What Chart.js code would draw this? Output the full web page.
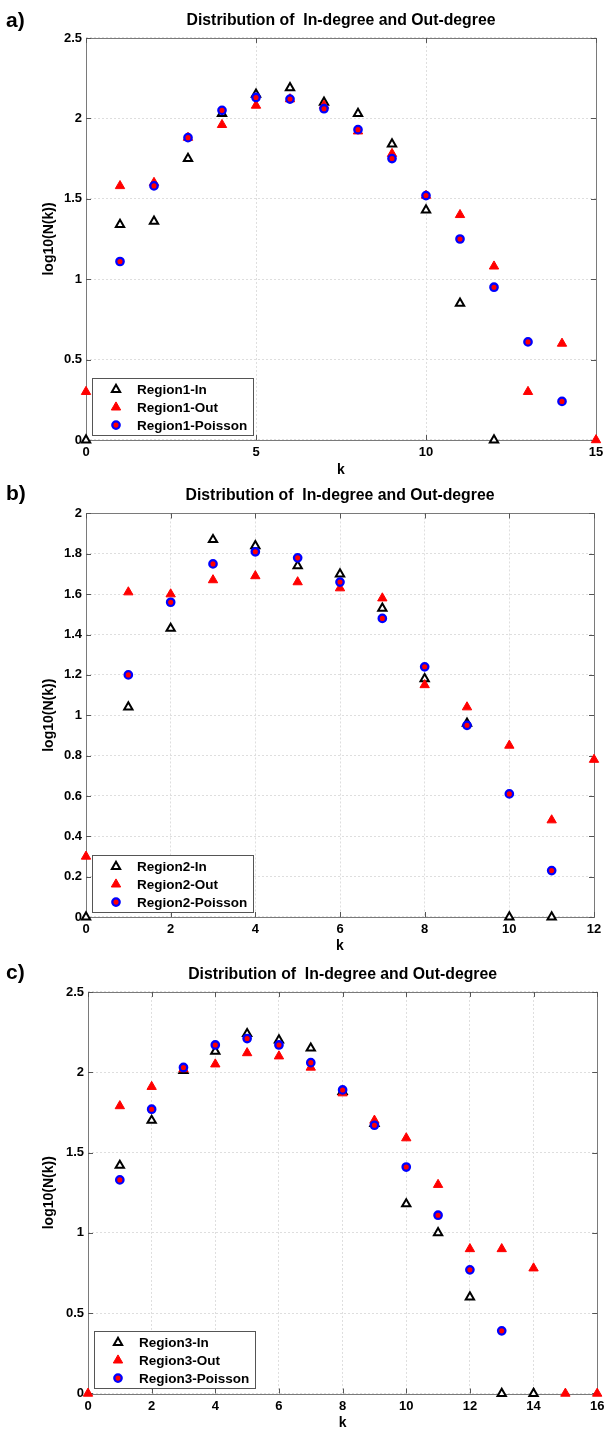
<!DOCTYPE html>
<html>
<head>
<meta charset="utf-8">
<script src="https://cdn.jsdelivr.net/npm/chart.js@4.4.1/dist/chart.umd.min.js"></script>
<style>
  body { margin: 0; background: #fff; }
  .panel { position: absolute; left: 0; width: 604px; }
</style>
</head>
<body>
<div class="panel" style="top:0"><canvas id="ca" width="604" height="480"></canvas></div>
<div class="panel" style="top:480px"><canvas id="cb" width="604" height="474"></canvas></div>
<div class="panel" style="top:954px"><canvas id="cc" width="604" height="480"></canvas></div>
<script>
// panel a) - Region1
const k1 = [0,1,2,3,4,5,6,7,8,9,10,11,12,13,14,15];
const in1 = [0,1.34,1.36,1.75,2.03,2.15,2.19,2.10,2.03,1.84,1.43,0.85,0,null,null,null];
const out1 = [0.30,1.58,1.60,1.88,1.96,2.08,2.12,2.08,1.92,1.78,1.52,1.40,1.08,0.30,0.60,0];
const pois1 = [null,1.11,1.58,1.88,2.05,2.13,2.12,2.06,1.93,1.75,1.52,1.25,0.95,0.61,0.24,null];

// panel b) - Region2
const k2 = [0,1,2,3,4,5,6,7,8,9,10,11,12];
const in2 = [0,1.04,1.43,1.87,1.84,1.74,1.70,1.53,1.18,0.96,0,0,null];
const out2 = [0.30,1.61,1.60,1.67,1.69,1.66,1.63,1.58,1.15,1.04,0.85,0.48,0.78];
const pois2 = [null,1.20,1.56,1.75,1.81,1.78,1.66,1.48,1.24,0.95,0.61,0.23,null];

// panel c) - Region3
const k3 = [0,1,2,3,4,5,6,7,8,9,10,11,12,13,14,15,16];
const in3 = [null,1.42,1.70,2.01,2.13,2.24,2.20,2.15,1.88,1.68,1.18,1.00,0.60,0,0,null,null];
const out3 = [0,1.79,1.91,2.02,2.05,2.12,2.10,2.03,1.87,1.70,1.59,1.30,0.90,0.90,0.78,0,0];
const pois3 = [null,1.33,1.77,2.03,2.17,2.21,2.17,2.06,1.89,1.67,1.41,1.11,0.77,0.39,null,null,null];

const titleText = 'Distribution of  In-degree and Out-degree';
const FONT = '"Liberation Sans", Arial, Helvetica, sans-serif';

function pts(ks, vals) {
  const out = [];
  ks.forEach((k, i) => { if (vals[i] !== null) out.push({x: k, y: vals[i]}); });
  return out;
}

function drawMarker(ctx, ds, x, y) {
  ctx.save();
  ctx.fillStyle = ds.pointBackgroundColor;
  ctx.strokeStyle = ds.pointBorderColor;
  ctx.lineWidth = ds.pointBorderWidth;
  Chart.helpers.drawPoint(ctx, {pointStyle: ds.pointStyle, radius: ds.pointRadius, borderWidth: ds.pointBorderWidth, rotation: 0}, x, y);
  ctx.restore();
}

// box, inward ticks, legend inside the axes, panel letter
const framePlugin = {
  id: 'frame',
  beforeDatasetsDraw(chart) {
    const {ctx, chartArea: a, scales: {x, y}} = chart;
    ctx.save();
    ctx.strokeStyle = '#7a7a7a';
    ctx.lineWidth = 1;
    ctx.strokeRect(Math.round(a.left) + 0.5, Math.round(a.top) + 0.5, Math.round(a.right - a.left), Math.round(a.bottom - a.top));
    ctx.strokeStyle = '#555';
    ctx.beginPath();
    x.ticks.forEach(t => {
      const px = Math.round(x.getPixelForValue(t.value)) + 0.5;
      ctx.moveTo(px, a.bottom); ctx.lineTo(px, a.bottom - 5);
      ctx.moveTo(px, a.top); ctx.lineTo(px, a.top + 5);
    });
    y.ticks.forEach(t => {
      const py = Math.round(y.getPixelForValue(t.value)) + 0.5;
      ctx.moveTo(a.left, py); ctx.lineTo(a.left + 5, py);
      ctx.moveTo(a.right, py); ctx.lineTo(a.right - 5, py);
    });
    ctx.stroke();
    ctx.restore();
  },
  afterDatasetsDraw(chart, args, opts) {
    const {ctx, chartArea: a} = chart;
    const bw = 161, bh = 57;
    const bx = Math.round(a.left + 6), by = Math.round(a.bottom - 5 - bh);
    ctx.save();
    ctx.fillStyle = '#fff';
    ctx.fillRect(bx, by, bw, bh);
    ctx.strokeStyle = '#555';
    ctx.lineWidth = 1;
    ctx.strokeRect(bx + 0.5, by + 0.5, bw, bh);
    ctx.font = 'bold 13.5px ' + FONT;
    ctx.fillStyle = '#000';
    ctx.textBaseline = 'middle';
    chart.data.datasets.forEach((ds, i) => {
      const yy = by + 11.5 + i * 17.8;
      drawMarker(ctx, ds, bx + 24, yy);
      ctx.fillStyle = '#000';
      ctx.fillText(ds.label, bx + 45, yy + 1);
    });
    ctx.font = 'bold 21px ' + FONT;
    ctx.textBaseline = 'alphabetic';
    ctx.fillText(opts.letter, 6, opts.letterY);
    ctx.restore();
  }
};

function makeChart(p) {
  const tickFont = {family: FONT, size: 13, weight: 'bold'};
  const axisTitleFont = {family: FONT, size: 14, weight: 'bold'};
  const titleFont = {family: FONT, size: 15.8, weight: 'bold'};
  new Chart(document.getElementById(p.id), {
    type: 'scatter',
    data: {
      datasets: [
        {
          label: p.names[0], data: pts(p.ks, p.inV), order: 3,
          pointStyle: 'triangle', pointRadius: 4.8, pointHoverRadius: 4.8,
          pointBackgroundColor: '#fff', pointBorderColor: '#000', pointBorderWidth: 2,
          backgroundColor: '#fff', borderColor: '#000', clip: false
        },
        {
          label: p.names[1], data: pts(p.ks, p.outV), order: 2,
          pointStyle: 'triangle', pointRadius: 5.4, pointHoverRadius: 5.4,
          pointBackgroundColor: '#ff0000', pointBorderColor: '#ff0000', pointBorderWidth: 1,
          backgroundColor: '#ff0000', borderColor: '#ff0000', clip: false
        },
        {
          label: p.names[2], data: pts(p.ks, p.poisV), order: 1,
          pointStyle: 'circle', pointRadius: 3.7, pointHoverRadius: 3.7,
          pointBackgroundColor: '#ff0000', pointBorderColor: '#0000ff', pointBorderWidth: 2.3,
          backgroundColor: '#ff0000', borderColor: '#0000ff', clip: false
        }
      ]
    },
    options: {
      responsive: false,
      animation: false,
      layout: {padding: {top: 0, left: 0, bottom: 0, right: 604 - p.right}},
      scales: {
        x: {
          type: 'linear', min: 0, max: p.xMax,
          ticks: {stepSize: p.xStep, color: '#000', font: tickFont, padding: 5, maxRotation: 0,
                  callback: v => String(+v.toFixed(2))},
          grid: {color: '#dedede', drawTicks: false},
          border: {display: false, dash: [2, 2]},
          title: {display: true, text: 'k', color: '#000', font: axisTitleFont, padding: {top: 0, bottom: p.H - p.kY - 8.4}},
          afterFit: s => { s.height = p.H - p.bottom; s.paddingLeft = 0; s.paddingRight = 0; }
        },
        y: {
          type: 'linear', min: 0, max: p.yMax,
          ticks: {stepSize: p.yStep, color: '#000', font: tickFont, padding: 4,
                  callback: v => String(+v.toFixed(2))},
          grid: {color: '#dedede', drawTicks: false},
          border: {display: false, dash: [2, 2]},
          title: {display: true, text: 'log10(N(k))', color: '#000', font: axisTitleFont, padding: {top: 49 - 8.4, bottom: 0}},
          afterFit: s => { s.width = p.left; s.paddingTop = 0; s.paddingBottom = 0; }
        }
      },
      plugins: {
        legend: {display: false},
        tooltip: {enabled: false},
        title: {
          display: true, fullSize: false, text: titleText, color: '#000',
          font: titleFont,
          padding: {top: p.titleY - 9.5, bottom: p.top - p.titleY - 9.5}
        },
        frame: {letter: p.letter, letterY: p.letterY}
      }
    },
    plugins: [framePlugin]
  });
}

makeChart({id: 'ca', ks: k1, inV: in1, outV: out1, poisV: pois1, xMax: 15, xStep: 5, yMax: 2.5, yStep: 0.5,
  names: ['Region1-In', 'Region1-Out', 'Region1-Poisson'], letter: 'a)', letterY: 27,
  H: 480, titleY: 21, top: 38, bottom: 440, left: 86, right: 596, kY: 470});
makeChart({id: 'cb', ks: k2, inV: in2, outV: out2, poisV: pois2, xMax: 12, xStep: 2, yMax: 2, yStep: 0.2,
  names: ['Region2-In', 'Region2-Out', 'Region2-Poisson'], letter: 'b)', letterY: 20,
  H: 474, titleY: 16, top: 33.5, bottom: 437, left: 86, right: 594, kY: 466});
makeChart({id: 'cc', ks: k3, inV: in3, outV: out3, poisV: pois3, xMax: 16, xStep: 2, yMax: 2.5, yStep: 0.5,
  names: ['Region3-In', 'Region3-Out', 'Region3-Poisson'], letter: 'c)', letterY: 25,
  H: 480, titleY: 21, top: 38, bottom: 439.5, left: 88, right: 598, kY: 469});
</script>
</body>
</html>
